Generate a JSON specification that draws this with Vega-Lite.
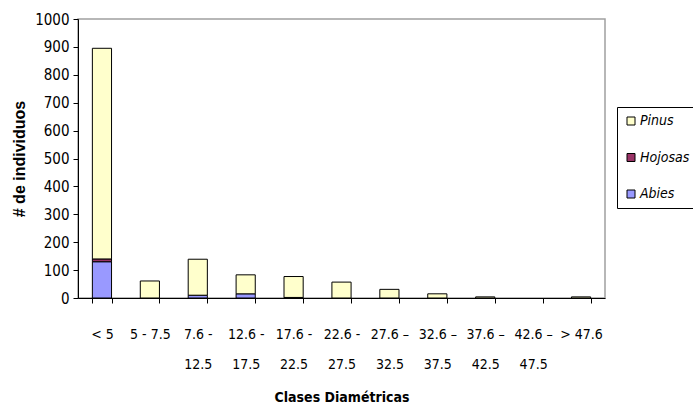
{
  "$schema": "https://vega.github.io/schema/vega-lite/v6.json",
  "width": 527,
  "height": 279,
  "autosize": {"type": "none"},
  "padding": {"left": 78, "top": 19, "right": 88, "bottom": 117},
  "background": "white",
  "config": {
    "view": {"stroke": "#a0a0a0", "strokeWidth": 1.5},
    "font": "DejaVu Sans Condensed, Liberation Sans"
  },
  "data": {
    "values": [
      {"clase": "< 5", "especie": "Abies", "n": 130},
      {"clase": "< 5", "especie": "Hojosas", "n": 10},
      {"clase": "< 5", "especie": "Pinus", "n": 755},
      {"clase": "5 - 7.5", "especie": "Pinus", "n": 61},
      {"clase": "7.6 -|12.5", "especie": "Abies", "n": 10},
      {"clase": "7.6 -|12.5", "especie": "Pinus", "n": 129},
      {"clase": "12.6 -|17.5", "especie": "Abies", "n": 15},
      {"clase": "12.6 -|17.5", "especie": "Pinus", "n": 68},
      {"clase": "17.6 -|22.5", "especie": "Abies", "n": 2},
      {"clase": "17.6 -|22.5", "especie": "Pinus", "n": 75},
      {"clase": "22.6 -|27.5", "especie": "Pinus", "n": 57},
      {"clase": "27.6 –|32.5", "especie": "Pinus", "n": 31},
      {"clase": "32.6 –|37.5", "especie": "Pinus", "n": 15},
      {"clase": "37.6 –|42.5", "especie": "Pinus", "n": 4},
      {"clase": "> 47.6", "especie": "Pinus", "n": 4}
    ]
  },
  "mark": {"type": "bar", "stroke": "black", "strokeWidth": 1},
  "encoding": {
    "x": {
      "field": "clase",
      "type": "nominal",
      "sort": null,
      "scale": {
        "domain": ["< 5", "5 - 7.5", "7.6 -|12.5", "12.6 -|17.5", "17.6 -|22.5", "22.6 -|27.5", "27.6 –|32.5", "32.6 –|37.5", "37.6 –|42.5", "42.6 –|47.5", "> 47.6"],
        "paddingInner": 0.6,
        "paddingOuter": 0.3
      },
      "axis": {
        "title": "Clases Diamétricas",
        "titleFont": "DejaVu Sans Condensed, Liberation Sans",
        "titleFontSize": 14,
        "titleFontWeight": "bold",
        "titleColor": "black",
        "titlePadding": 19,
        "labelExpr": "datum.value ? split(datum.value, '|') : ''",
        "labelAngle": 0,
        "labelFontSize": 14,
        "labelColor": "black",
        "labelLineHeight": 30,
        "labelPadding": 31,
        "labelBaseline": "middle",
        "domainColor": "black",
        "tickColor": "black",
        "tickSize": 5,
        "tickBand": "extent"
      }
    },
    "y": {
      "field": "n",
      "type": "quantitative",
      "aggregate": "sum",
      "stack": "zero",
      "scale": {"domain": [0, 1000], "nice": false},
      "axis": {
        "title": "# de individuos",
        "titleFont": "Liberation Sans",
        "titleFontSize": 16,
        "titleFontWeight": "bold",
        "titleColor": "black",
        "titleX": -59,
        "titleBaseline": "middle",
        "values": [0, 100, 200, 300, 400, 500, 600, 700, 800, 900, 1000],
        "format": "d",
        "grid": false,
        "labelFontSize": 15,
        "labelColor": "black",
        "labelPadding": 4,
        "domainColor": "black",
        "tickColor": "black",
        "tickSize": 5
      }
    },
    "color": {
      "field": "especie",
      "type": "nominal",
      "scale": {
        "domain": ["Pinus", "Hojosas", "Abies"],
        "range": ["#FFFFCC", "#993366", "#9999FF"]
      },
      "legend": {
        "title": null,
        "orient": "none",
        "legendX": 539,
        "legendY": 88,
        "strokeColor": "black",
        "padding": 7,
        "rowPadding": 22.5,
        "symbolType": "square",
        "symbolSize": 64,
        "symbolStrokeColor": "black",
        "symbolStrokeWidth": 1,
        "symbolOpacity": 1,
        "labelFont": "DejaVu Sans Condensed, Liberation Sans",
        "labelFontStyle": "italic",
        "labelFontSize": 14,
        "labelColor": "black",
        "labelOffset": 2
      }
    },
    "order": {"field": "especie", "sort": "ascending"}
  }
}
